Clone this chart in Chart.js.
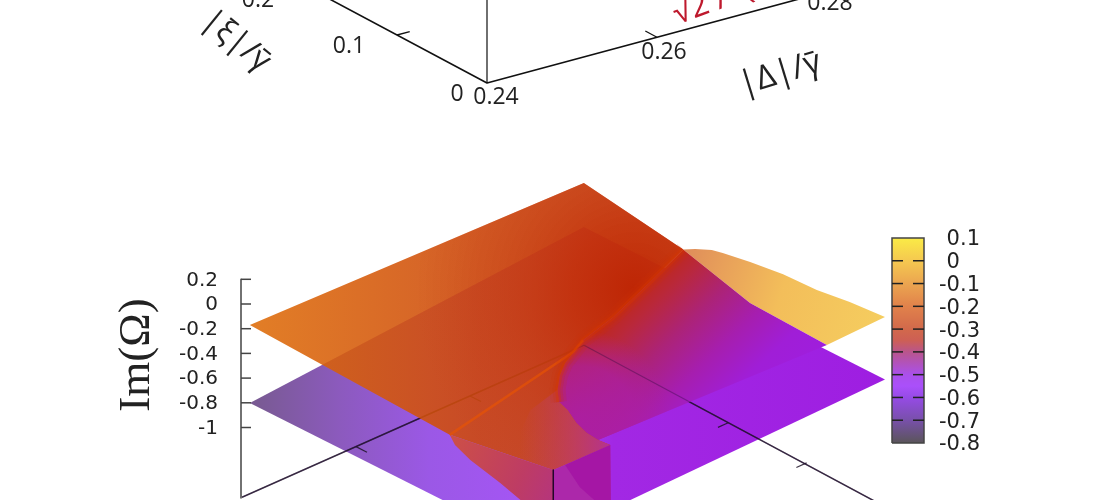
<!DOCTYPE html>
<html>
<head>
<meta charset="utf-8">
<style>
html, body { margin: 0; padding: 0; background: #fff; overflow: hidden; }
canvas { display: block; }
</style>
<script src="https://cdn.jsdelivr.net/npm/chart.js@4/dist/chart.umd.min.js"></script>
</head>
<body>
<canvas id="surface" width="1110" height="500"></canvas>
<script>
// tick values
const imTicks = [0.2, 0, -0.2, -0.4, -0.6, -0.8, -1];
const colorTicks = [0.1, 0, -0.1, -0.2, -0.3, -0.4, -0.5, -0.6, -0.7, -0.8];
const floorDeltaTicks = [0.26, 0.28];
const floorXiTicks = [0.1, 0.2, 0.3];

// surface outlines, each point is [|Δ|/γ, |ξ|/γ, Im(Ω)]
const lowerSheet = [[0.24, 0.374, -0.744], [0.2986, 0.374, -0.52], [0.30, 0, -0.57], [0.24, 0.012, -0.725]];
const flapEdge = [[0.2987, 0.248, -0.297], [0.30, 0.242, -0.30], [0.30, 0.221, -0.239], [0.30, 0.207, -0.217], [0.30, 0.172, -0.178],
    [0.30, 0.130, -0.140], [0.30, 0.087, -0.127], [0.30, 0.045, -0.088], [0.30, 0, -0.064],
    [0.2898, 0, -0.082], [0.2986, 0.064, -0.47], [0.2986, 0.162, -0.448]];
const ridgeCurve = [[0.2936, 0.253, -0.47], [0.2837, 0.228, -0.47], [0.2766, 0.215, -0.47], [0.2707, 0.195, -0.47], [0.2680, 0.182, -0.47],
    [0.2651, 0.164, -0.47], [0.2630, 0.147, -0.47], [0.2623, 0.131, -0.47], [0.2608, 0.109, -0.47], [0.2599, 0.089, -0.47],
    [0.2597, 0.073, -0.47], [0.2518, 0, -0.111]];
const fanEdge = [[0.2987, 0.248, -0.297], [0.2986, 0.162, -0.448], [0.2986, 0.064, -0.47], [0.2898, 0, -0.082]];
const upperEdge = [[0.24, 0.374, -0.112], [0.2986, 0.374, -0.164], [0.2987, 0.248, -0.297]];
const upperFront = [[0.2418, 0, -0.109], [0.24, 0.119, -0.174]];
const wedge = [[0.2651, 0.164, -0.47], [0.2630, 0.147, -0.47], [0.2623, 0.131, -0.47], [0.2608, 0.109, -0.47], [0.2599, 0.089, -0.47],
    [0.2597, 0.073, -0.47], [0.2518, 0, -0.111], [0.2418, 0, -0.109], [0.2410, 0.0496, -0.136], [0.2588, 0.153, -0.47]];
const pinkLobe = [[0.24, 0.119, -0.174], [0.2418, 0, -0.109], [0.2494, 0.054, -0.725], [0.2468, 0.070, -0.725],
    [0.2484, 0.116, -0.725], [0.2498, 0.164, -0.725], [0.2511, 0.193, -0.725]];
const frontWall = [[0.2418, 0, -0.109], [0.2518, 0, -0.111], [0.2548, 0.021, -0.725], [0.2494, 0.054, -0.725]];
const frontWallDark = [[0.252, 0.059, -0.47], [0.2518, 0, -0.111], [0.2548, 0.021, -0.725], [0.2537, 0.027, -0.725], [0.2551, 0.063, -0.725]];
const creaseLine = [[0.24, 0.119, -0.174], [0.2735, 0.205, -0.47], [0.2766, 0.215, -0.47]];
const frontEdge = [[0.2418, 0, -0.109], [0.2418, 0, -0.6]];

const floorLeft = [0.24, 0.384, -1.54];
const floorBack = [0.30, 0.384, -1.54];
const floorRight = [0.30, 0, -1.6];

// oblique view of the lower plot
function project(p) {
    const u = (p[0] - 0.24) / 0.06;
    const v = p[1] / 0.384;
    return {
        x: 543 + 342 * u - 301 * v,
        y: 655 - 152 * u - 154 * v - (p[2] + 1.57) * 123.5
    };
}

// oblique view of the axes of the upper plot, only its bottom is on the page
function projectTop(delta, xi) {
    return {
        x: 487 + 8500 * (delta - 0.24) - 900 * xi,
        y: 83 - 2287 * (delta - 0.24) - 480 * xi
    };
}

const canvas = document.getElementById('surface');
const ctx = canvas.getContext('2d');

function linear(x0, y0, x1, y1, stops) {
    const g = ctx.createLinearGradient(x0, y0, x1, y1);
    stops.forEach(s => g.addColorStop(s[0], s[1]));
    return g;
}

function radial(cx, cy, r, stops) {
    const g = ctx.createRadialGradient(cx, cy, 0, cx, cy, r);
    stops.forEach(s => g.addColorStop(s[0], s[1]));
    return g;
}

function shape(points, color) {
    const pts = points.map(project);
    pts.push(pts[0]);
    return { data: pts, showLine: true, fill: 'shape', backgroundColor: color, borderWidth: 0, pointRadius: 0 };
}

function path(pts, color, width, yAxisID) {
    return {
        data: pts, showLine: true, fill: false, borderColor: color, borderWidth: width,
        borderJoinStyle: 'round', pointRadius: 0, yAxisID: yAxisID || 'y'
    };
}

const upperOutline = upperEdge.concat(ridgeCurve, upperFront);
const fanOutline = fanEdge.concat(ridgeCurve.slice().reverse().slice(1));

const lowerFill = linear(252, 0, 886, 0, [
    [0, 'rgb(120,90,145)'], [0.14, 'rgb(140,90,190)'], [0.28, 'rgb(155,88,230)'],
    [0.44, 'rgb(165,85,245)'], [0.57, 'rgb(162,40,228)'], [1, 'rgb(158,30,225)']
]);
const flapFill = linear(683, 250, 886, 317, [
    [0, 'rgb(222,140,90)'], [0.2, 'rgb(232,160,90)'], [0.5, 'rgb(243,190,90)'], [1, 'rgb(245,205,95)']
]);
// red at the ridge, going to violet away from it
const fanFill = linear(683, 250, 821, 394, [
    [0, 'rgb(190,40,30)'], [0.1, 'rgb(185,40,60)'], [0.28, 'rgb(172,35,120)'],
    [0.48, 'rgb(166,30,175)'], [0.68, 'rgb(160,30,215)'], [1, 'rgb(158,30,225)']
]);
const fanCorner = radial(580, 420, 90, [[0, 'rgba(172,30,165,0.9)'], [0.6, 'rgba(172,30,165,0.7)'], [1, 'rgba(172,30,165,0)']]);
const upperFill = linear(250, 0, 683, 0, [
    [0, 'rgba(222,108,8,0.88)'], [0.53, 'rgba(205,72,10,0.88)'], [1, 'rgba(195,62,25,0.88)']
]);
const upperGlow = radial(635, 290, 220, [
    [0, 'rgba(190,35,0,0.9)'], [0.3, 'rgba(195,45,5,0.7)'], [1, 'rgba(200,70,20,0)']
]);
const wedgeFill = linear(520, 0, 610, 0, [[0, 'rgba(190,65,100,0)'], [0.6, 'rgba(190,60,110,0.75)'], [1, 'rgba(180,50,150,0.95)']]);
const pinkFill = linear(450, 435, 600, 500, [[0, 'rgb(205,80,70)'], [0.5, 'rgb(190,60,100)'], [1, 'rgb(172,45,150)']]);

// colour bar palette, same values as colorTicks
const paletteStops = [
    [0.1, 'rgb(250,235,70)'], [0, 'rgb(245,200,80)'], [-0.1, 'rgb(235,165,80)'], [-0.2, 'rgb(225,130,75)'],
    [-0.3, 'rgb(210,105,75)'], [-0.35, 'rgb(205,95,85)'], [-0.4, 'rgb(185,85,140)'], [-0.5, 'rgb(170,80,235)'],
    [-0.55, 'rgb(170,80,250)'], [-0.6, 'rgb(150,75,230)'], [-0.7, 'rgb(120,80,170)'], [-0.8, 'rgb(90,85,90)']
];
const paletteFill = linear(0, 238, 0, 443, paletteStops.map(s => [(0.1 - s[0]) / 0.9, s[1]]));

const datasets = [];
datasets.push(shape(flapEdge, flapFill));
datasets.push(shape(lowerSheet, lowerFill));

// floor of the box, seen through the sheets
const floorColor = 'rgba(30,20,40,0.85)';
const floorLine = [floorLeft, floorBack, floorRight].map(project);
datasets.push(path(floorLine, floorColor, 1.5));
floorDeltaTicks.forEach(d => {
    datasets.push(path([project([d, 0.384, -1.54]), project([d, 0.37, -1.54])], floorColor, 1.2));
});
floorXiTicks.forEach(xi => {
    datasets.push(path([project([0.30, xi, -1.57]), project([0.2982, xi, -1.57])], floorColor, 1.2));
});

datasets.push(shape(fanOutline, fanFill));
datasets.push(shape(fanOutline, fanCorner));
datasets.push(path(floorLine, 'rgba(40,10,60,0.35)', 1.2));
datasets.push(shape(upperOutline, upperFill));
datasets.push(shape(upperOutline, upperGlow));
datasets.push(shape(wedge, wedgeFill));
datasets.push(shape(pinkLobe, pinkFill));
datasets.push(shape(frontWall, 'rgb(172,40,170)'));
datasets.push(shape(frontWallDark, 'rgb(165,22,165)'));
datasets.push(path(creaseLine.map(project), 'rgba(235,85,0,0.6)', 2.5));

// soft red band along the place where the sheets meet
const ridgeBand = [upperEdge[2]].concat(ridgeCurve.slice(0, 7)).map(project);
datasets.push(path(ridgeBand, 'rgba(205,50,5,0.14)', 16));
datasets.push(path(ridgeBand, 'rgba(205,50,5,0.2)', 10));
datasets.push(path(ridgeBand, 'rgba(215,55,0,0.35)', 5));
datasets.push(path(frontEdge.map(project), 'rgba(20,0,30,0.9)', 1.5));

// Im axis line and its ticks
datasets.push(path([{ x: 241, y: 0.2 }, { x: 241, y: -1.57 }], '#444', 1.5, 'yIm'));
imTicks.forEach(v => {
    datasets.push(path([{ x: 241, y: v }, { x: 251, y: v }], '#444', 1.5, 'yIm'));
});

// colour bar
datasets.push({
    data: [{ x: 892, y: -0.8 }, { x: 924, y: -0.8 }, { x: 924, y: 0.1 }, { x: 892, y: 0.1 }, { x: 892, y: -0.8 }],
    showLine: true, fill: 'shape', backgroundColor: paletteFill, borderColor: '#444', borderWidth: 1.5, pointRadius: 0, yAxisID: 'yColor'
});
colorTicks.slice(1, -1).forEach(v => {
    datasets.push(path([{ x: 892, y: v }, { x: 903, y: v }], '#222', 1.5, 'yColor'));
    datasets.push(path([{ x: 913, y: v }, { x: 924, y: v }], '#222', 1.5, 'yColor'));
});

// axes of the upper plot
const topOrigin = projectTop(0.24, 0);
datasets.push(path([{ x: topOrigin.x, y: topOrigin.y }, { x: topOrigin.x, y: -5 }], '#222', 1.3));
datasets.push(path([projectTop(0.24, 0.2), topOrigin, projectTop(0.28, 0)], '#111', 1.6));
datasets.push(path([projectTop(0.26, 0), projectTop(0.26, 0.013)], '#111', 1.3));
datasets.push(path([projectTop(0.24, 0.1), projectTop(0.2415, 0.1)], '#111', 1.3));

// layers are listed back to front, Chart.js paints low order last
datasets.forEach((d, i) => { d.order = datasets.length - i; d.tension = 0; });

const topFont = '23px "Open Sans"';
const freeTexts = [
    { text: '0', at: projectTop(0.24, 0), dx: -30, dy: 11, font: topFont, color: '#222' },
    { text: '0.1', at: projectTop(0.24, 0.1), dx: -48, dy: 11, font: topFont, color: '#222' },
    { text: '0.2', at: projectTop(0.24, 0.2), dx: -49, dy: 13, font: topFont, color: '#222' },
    { text: '0.24', at: projectTop(0.24, 0), dx: 9, dy: 14, font: topFont, color: '#222' },
    { text: '0.26', at: projectTop(0.26, 0), dx: 7, dy: 15, font: topFont, color: '#222' },
    { text: '0.28', at: projectTop(0.28, 0), dx: 3, dy: 12, font: topFont, color: '#222' },
    { text: '|ξ|/γ\u0304', at: { x: 236, y: 41 }, angle: 39, font: '32px "Open Sans"', color: '#222' },
    { text: '|Δ|/γ\u0304', at: { x: 780, y: 74 }, angle: -17, font: '33px "Open Sans"', color: '#222' },
    { text: '√2 /  (', at: { x: 713, y: 2 }, angle: -20, font: '32px "Open Sans"', color: 'rgb(190,25,45)' },
    { text: 'Im(Ω)', at: { x: 137, y: 355 }, angle: -90, font: '45px "Liberation Serif"', color: '#222' }
];

const freeTextPlugin = {
    id: 'freeText',
    afterDraw(chart) {
        const c = chart.ctx;
        freeTexts.forEach(t => {
            c.save();
            c.translate(t.at.x + (t.dx || 0), t.at.y + (t.dy || 0));
            c.rotate((t.angle || 0) * Math.PI / 180);
            c.font = t.font;
            c.fillStyle = t.color;
            c.textAlign = 'center';
            c.textBaseline = 'middle';
            c.fillText(t.text, 0, 0);
            c.restore();
        });
    }
};

function valueAxis(xPos, min, max, ticks, fontSize, nudge, labelOf) {
    return {
        axis: 'y',
        position: { x: xPos },
        min: min,
        max: max,
        afterBuildTicks: ax => { ax.ticks = ticks.map(v => ({ value: v })); },
        // the tick labels would otherwise shrink the plot area by half a text height
        afterFit: ax => { ax.paddingTop = 0; ax.paddingBottom = 0; },
        grid: { display: false },
        border: { display: false },
        ticks: {
            autoSkip: false,
            maxRotation: 0,
            padding: 0,
            labelOffset: nudge,
            color: '#222',
            font: { family: 'DejaVu Sans', size: fontSize },
            callback: labelOf
        }
    };
}

new Chart(ctx, {
    type: 'scatter',
    data: { datasets: datasets },
    options: {
        responsive: false,
        animation: false,
        events: [],
        layout: { padding: 0, autoPadding: false },
        plugins: { legend: { display: false }, tooltip: { enabled: false } },
        scales: {
            x: { type: 'linear', min: 0, max: 1110, display: false },
            y: { type: 'linear', min: 0, max: 500, reverse: true, display: false },
            yIm: valueAxis(218, -196 / 123.5, 304 / 123.5, imTicks, 20, 1, v => String(v)),
            yColor: valueAxis(980, -0.8 - 57 / 227.8, 0.1 + 238 / 227.8, colorTicks, 21, 2,
                v => v === 0 ? '0\u00a0\u00a0\u00a0' : String(v))
        }
    },
    plugins: [freeTextPlugin]
});
</script>
</body>
</html>
